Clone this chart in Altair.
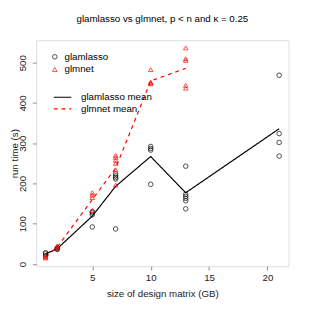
import altair as alt
import pandas as pd

# ---- data ----
sizes = [1, 2, 5, 7, 10, 13, 21]
glmnet_sizes = [1, 2, 5, 7, 10, 13]

glamlasso_x1 = [28, 25, 20]
glamlasso_x2 = [40, 38, 36]
glamlasso_x5 = [130, 127, 122, 92]
glamlasso_x7 = [224, 219, 215, 211, 87]
glamlasso_x10 = [292, 287, 283, 198]
glamlasso_x13 = [243, 173, 168, 163, 157, 137]
glamlasso_x21 = [469, 324, 302, 268]

glmnet_x1 = [20, 17, 15]
glmnet_x2 = [45, 42, 40]
glmnet_x5 = [177, 171, 165, 133]
glmnet_x7 = [270, 265, 258, 250, 234, 196]
glmnet_x10 = [483, 452, 450, 448]
glmnet_x13 = [537, 510, 506, 444, 437]

glamlasso_mean = [25, 38, 119, 193, 267, 177, 336]
glmnet_mean = [17, 42, 160, 238, 455, 486]

x_ticks = [5, 10, 15, 20]
y_ticks = [0, 100, 200, 300, 400, 500]

# ---- build tables ----
rows = []
for s, vals in zip(sizes, [glamlasso_x1, glamlasso_x2, glamlasso_x5, glamlasso_x7,
                           glamlasso_x10, glamlasso_x13, glamlasso_x21]):
    rows += [{"x": s, "y": v, "series": "glamlasso"} for v in vals]
for s, vals in zip(glmnet_sizes, [glmnet_x1, glmnet_x2, glmnet_x5, glmnet_x7,
                                  glmnet_x10, glmnet_x13]):
    rows += [{"x": s, "y": v, "series": "glmnet"} for v in vals]
pts = pd.DataFrame(rows)

mrows = [{"x": s, "y": v, "series": "glamlasso mean"} for s, v in zip(sizes, glamlasso_mean)]
mrows += [{"x": s, "y": v, "series": "glmnet mean"} for s, v in zip(glmnet_sizes, glmnet_mean)]
means = pd.DataFrame(mrows)

FONT = "Liberation Sans"

axis_common = dict(domain=False, grid=False, tickSize=4, tickColor="#8c8c8c", tickWidth=1,
                   labelFont=FONT, labelFontSize=10, labelColor="#222",
                   titleFont=FONT, titleFontSize=10, titleFontWeight="normal",
                   titleColor="#222")

xenc = alt.X("x:Q",
             scale=alt.Scale(domain=[0.2, 21.8], nice=False, zero=False),
             axis=alt.Axis(values=x_ticks, title="size of design matrix (GB)",
                           labelPadding=3, titlePadding=6, **axis_common))
yenc = alt.Y("y:Q",
             scale=alt.Scale(domain=[-5.6, 556], nice=False, zero=False),
             axis=alt.Axis(values=y_ticks, title="run time (s)", labelAngle=270,
                           labelAlign="center", labelBaseline="bottom",
                           labelPadding=5, titlePadding=-2, **axis_common))

pt_dom = ["glamlasso", "glmnet"]
ln_dom = ["glamlasso mean", "glmnet mean"]

pt_legend = alt.Legend(title=None, orient="none", legendX=14, legendY=12,
                       padding=0, rowPadding=3, labelFontSize=10, labelFont=FONT,
                       symbolSize=22, symbolStrokeWidth=1, labelOffset=5)
ln_legend = alt.Legend(title=None, orient="none", legendX=21.5, legendY=53,
                       padding=0, rowPadding=1, labelFontSize=10, labelFont=FONT,
                       symbolType="M-2,0H2", symbolSize=81, symbolStrokeWidth=1.2,
                       labelOffset=13.5)

points = alt.Chart(pts).mark_point(filled=False, strokeWidth=1, size=22).encode(
    x=xenc, y=yenc,
    color=alt.Color("series:N", scale=alt.Scale(domain=pt_dom, range=["black", "red"]),
                    legend=pt_legend),
    shape=alt.Shape("series:N", scale=alt.Scale(domain=pt_dom, range=["circle", "triangle-up"]),
                    legend=pt_legend),
)

lines = alt.Chart(means).mark_line(strokeWidth=1.2).encode(
    x=xenc, y=yenc,
    color=alt.Color("series:N", scale=alt.Scale(domain=ln_dom, range=["black", "red"]),
                    legend=ln_legend),
    strokeDash=alt.StrokeDash("series:N",
                              scale=alt.Scale(domain=ln_dom, range=[[1, 0], [4, 4]]),
                              legend=ln_legend),
)

chart = alt.layer(lines, points).resolve_scale(
    color="independent", shape="independent", strokeDash="independent"
).properties(
    width=259, height=232,
    autosize=alt.AutoSizeParams(type="none"),
    padding={"left": 29, "top": 29, "right": 19, "bottom": 46},
    title=alt.TitleParams("glamlasso  vs glmnet, p < n and \u03ba = 0.25",
                          fontSize=10, font=FONT, fontWeight="normal",
                          anchor="middle", offset=17),
).configure_view(
    stroke="#8c8c8c", strokeWidth=1.3
).configure(background="white")

chart.save("out.html", embed_options={"renderer": "svg", "actions": False})
